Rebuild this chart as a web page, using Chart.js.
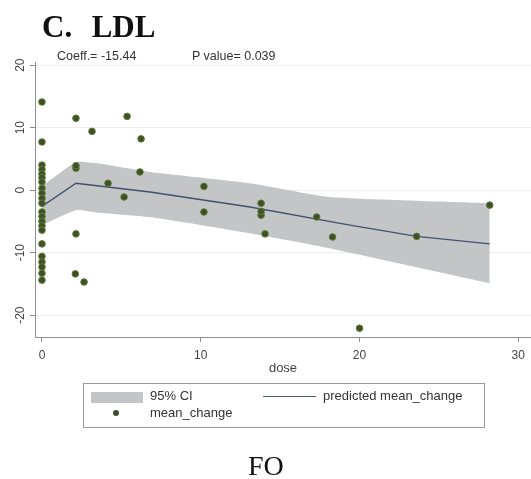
<!DOCTYPE html>
<html>
<head>
<meta charset="utf-8">
<script src="https://cdn.jsdelivr.net/npm/chart.js@4/dist/chart.umd.min.js"></script>
<style>
  html, body { margin: 0; padding: 0; background: #fff; overflow: hidden; }
  #wrap { position: relative; width: 531px; height: 479px; }
  #plot { position: absolute; left: 0; top: 0; }
  .txt { position: absolute; white-space: pre; font-family: "Liberation Sans", Arial, sans-serif; color: #333; }
  #titulo { left: 42px; top: 9px; font: bold 31px "Liberation Serif", "Times New Roman", serif; color: #111; word-spacing: 2px; }
  #coef { left: 57px; top: 49px; font-size: 12.5px; }
  #pval { left: 192px; top: 49px; font-size: 12.5px; }
  #legenda { position: absolute; left: 83px; top: 383px; width: 400px; height: 43px; border: 1px solid #9a9a9a; }
  .sw-ci { position: absolute; left: 7px; top: 8px; width: 52px; height: 11px; background: #c4c5c7; }
  .sw-linha { position: absolute; left: 179px; top: 12px; width: 53px; height: 0; border-top: 1px solid #4a5d7c; }
  .sw-ponto { position: absolute; left: 29px; top: 26px; width: 6px; height: 6px; border-radius: 50%; background: #3f4b2c; }
  #rodape { left: 248px; top: 450px; font: 28px "Liberation Serif", "Times New Roman", serif; color: #111; }
</style>
</head>
<body>
<div id="wrap">
  <canvas id="plot" width="531" height="479"></canvas>
  <div class="txt" id="titulo">C.  LDL</div>
  <div class="txt" id="coef">Coeff.= -15.44</div>
  <div class="txt" id="pval">P value= 0.039</div>
  <div id="legenda">
    <div class="sw-ci"></div>
    <div class="txt" style="left:66px; top:4px; font-size:13px;">95% CI</div>
    <div class="sw-linha"></div>
    <div class="txt" style="left:239px; top:4px; font-size:13px;">predicted mean_change</div>
    <div class="sw-ponto"></div>
    <div class="txt" style="left:66px; top:21px; font-size:13px;">mean_change</div>
  </div>
  <div class="txt" id="rodape">FO</div>
</div>
<script>
// observed mean change by dose
const doseObs = [
  0, 0, 0, 0, 0, 0, 0, 0, 0, 0, 0, 0, 0, 0, 0, 0, 0, 0, 0, 0, 0, 0,
  2.14, 2.14, 2.14, 2.14, 2.1, 2.65, 3.15, 4.16, 5.17, 5.36, 6.24, 6.17,
  10.2, 10.2, 13.8, 13.8, 13.8, 14.05, 17.3, 18.3, 20.0, 23.6, 28.2
];
const mudancaObs = [
  14.1, 7.7, 4.0, 3.3, 2.6, 2.0, 1.3, 0.3, -0.5, -1.3, -2.1, -3.5, -4.2, -5.0, -5.7, -6.4, -8.6, -10.6, -11.5, -12.3, -13.3, -14.4,
  11.5, 3.5, 3.9, -7.0, -13.4, -14.7, 9.4, 1.1, -1.1, 11.8, 8.2, 2.9,
  0.6, -3.5, -2.1, -4.0, -3.4, -7.0, -4.3, -7.5, -22.1, -7.4, -2.4
];

// predicted line
const doseAjuste = [0, 2.14, 6.8, 13.1, 19.4, 23.6, 28.2];
const mudancaAjuste = [-2.6, 1.1, -0.3, -2.7, -5.6, -7.4, -8.6];

// 95% CI band
const doseIC = [0, 2.14, 3.5, 6.8, 13.1, 18.1, 28.2];
const icSuperior = [0.6, 4.5, 4.3, 2.9, 1.1, -1.1, -2.1];
const icInferior = [-5.6, -3.2, -3.6, -4.3, -6.9, -9.3, -14.9];

const ticksX = [0, 10, 20, 30];
const ticksY = [-20, -10, 0, 10, 20];

const pares = (xs, ys) => xs.map((x, i) => ({ x: x, y: ys[i] }));

const fonteEixo = { family: '"Liberation Sans", Arial, sans-serif', size: 12 };

new Chart(document.getElementById('plot'), {
    data: {
        datasets: [
            {
                type: 'scatter',
                label: 'mean_change',
                data: pares(doseObs, mudancaObs),
                backgroundColor: '#414e2b',
                borderColor: '#5c7f2f',
                borderWidth: 1,
                pointRadius: 3.3,
                order: 0
            },
            {
                type: 'line',
                label: 'predicted mean_change',
                data: pares(doseAjuste, mudancaAjuste),
                borderColor: '#3f5272',
                borderWidth: 1.3,
                pointRadius: 0,
                fill: false,
                tension: 0,
                order: 1
            },
            {
                type: 'line',
                label: '95% CI',
                data: pares(doseIC, icSuperior),
                borderWidth: 0,
                borderColor: 'rgba(0,0,0,0)',
                backgroundColor: '#c4c5c7',
                pointRadius: 0,
                fill: '+1',
                tension: 0.15,
                order: 2
            },
            {
                type: 'line',
                label: 'ci_lower',
                data: pares(doseIC, icInferior),
                borderWidth: 0,
                borderColor: 'rgba(0,0,0,0)',
                pointRadius: 0,
                fill: false,
                tension: 0.15,
                order: 3
            }
        ]
    },
    options: {
        responsive: false,
        animation: false,
        layout: {
            autoPadding: false,
            padding: { top: 62, left: 0, right: 0, bottom: 102 }
        },
        plugins: {
            legend: { display: false },
            tooltip: { enabled: false }
        },
        scales: {
            x: {
                type: 'linear',
                min: -0.44,
                max: 30.8,
                afterBuildTicks: (eixo) => { eixo.ticks = ticksX.map(v => ({ value: v })); },
                afterFit: (eixo) => { eixo.height = 40; },
                border: { color: '#8f8f8f', width: 1 },
                grid: { drawOnChartArea: false, drawTicks: true, tickLength: 5, color: '#8f8f8f' },
                ticks: { font: fonteEixo, color: '#444', padding: 6, maxRotation: 0 },
                title: { display: true, text: 'dose', font: { family: fonteEixo.family, size: 13 }, color: '#444', padding: { top: 0, bottom: 1 } }
            },
            y: {
                type: 'linear',
                min: -23.5,
                max: 20.5,
                afterBuildTicks: (eixo) => { eixo.ticks = ticksY.map(v => ({ value: v })); },
                afterFit: (eixo) => { eixo.width = 35; },
                border: { color: '#8f8f8f', width: 1 },
                grid: { color: '#ededed', tickColor: '#8f8f8f', tickLength: 5, drawTicks: true },
                ticks: { font: fonteEixo, color: '#444', padding: 1, minRotation: 90, maxRotation: 90, crossAlign: 'center' }
            }
        }
    }
});
</script>
</body>
</html>
